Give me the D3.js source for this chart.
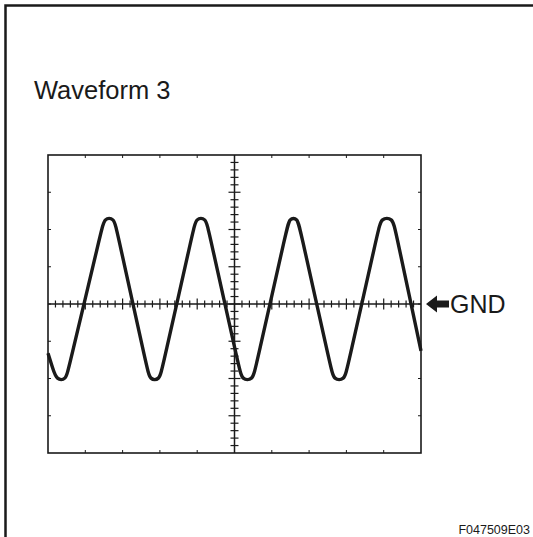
<!DOCTYPE html>
<html>
<head>
<meta charset="utf-8">
<script src="https://cdn.jsdelivr.net/npm/d3@7/dist/d3.min.js"></script>
<style>
  html, body { margin: 0; padding: 0; background: #fff; }
  svg { display: block; }
  text { font-family: "Liberation Sans", Arial, Helvetica, sans-serif; fill: #1a1a1a; }
</style>
</head>
<body>
<svg id="chart" width="533" height="537"></svg>
<script>
// ---- data (time in divisions, voltage in divisions) ----
const waveTime = [0, 0.13, 0.23, 0.48, 0.55, 1.44, 1.51, 1.77, 1.84, 2.66, 2.73, 2.99, 3.06, 3.90, 3.97, 4.23, 4.30, 5.13, 5.20, 5.49, 5.56, 6.40, 6.47, 6.69, 6.76, 7.59, 7.66, 7.95, 8.02, 8.86, 8.93, 9.24, 9.31, 10];
const waveVolt = [-1.32, -1.74, -2.04, -2.04, -1.74, 2.00, 2.31, 2.31, 2.00, -1.74, -2.04, -2.04, -1.74, 2.00, 2.31, 2.31, 2.00, -1.74, -2.04, -2.04, -1.74, 2.00, 2.31, 2.31, 2.00, -1.74, -2.04, -2.04, -1.74, 2.00, 2.31, 2.31, 2.00, -1.26];
const xDivisions = d3.range(0, 11);        // 10 horizontal divisions
const yDivisions = d3.range(-4, 5);        // 8 vertical divisions
const minorStep = 0.2;
const titleText = "Waveform 3";
const gndLabel = "GND";
const figureCode = "F047509E03";

const svg = d3.select("#chart");
const W = 533, H = 537;
const plot = { left: 48, right: 421, top: 155, bottom: 453 };

const x = d3.scaleLinear().domain([0, 10]).range([plot.left, plot.right]);
const y = d3.scaleLinear().domain([-4, 4]).range([plot.bottom, plot.top]);

const ink = "#1a1a1a";

// outer border (top + left visible)
svg.append("path")
  .attr("d", `M5.5,${H} L5.5,5.5 L${W},5.5`)
  .attr("fill", "none").attr("stroke", ink).attr("stroke-width", 2.5);

// title
svg.append("text").attr("x", 34).attr("y", 99)
  .attr("font-size", 25.5).text(titleText);

// frame
const g = svg.append("g");
g.append("rect")
  .attr("x", x(0)).attr("y", y(4))
  .attr("width", x(10) - x(0)).attr("height", y(-4) - y(4))
  .attr("fill", "none").attr("stroke", ink).attr("stroke-width", 1.6);

// frame edge ticks
const edgeLen = 3;
xDivisions.slice(1, -1).forEach(d => {
  g.append("line").attr("x1", x(d)).attr("x2", x(d)).attr("y1", y(4)).attr("y2", y(4) + edgeLen)
    .attr("stroke", ink).attr("stroke-width", 1);
  g.append("line").attr("x1", x(d)).attr("x2", x(d)).attr("y1", y(-4)).attr("y2", y(-4) - edgeLen)
    .attr("stroke", ink).attr("stroke-width", 1);
});
yDivisions.slice(1, -1).forEach(d => {
  g.append("line").attr("x1", x(0)).attr("x2", x(0) + edgeLen).attr("y1", y(d)).attr("y2", y(d))
    .attr("stroke", ink).attr("stroke-width", 1);
  g.append("line").attr("x1", x(10)).attr("x2", x(10) - edgeLen).attr("y1", y(d)).attr("y2", y(d))
    .attr("stroke", ink).attr("stroke-width", 1);
});

// center cross lines
g.append("line").attr("x1", x(0)).attr("x2", x(10)).attr("y1", y(0)).attr("y2", y(0))
  .attr("stroke", ink).attr("stroke-width", 1.5);
g.append("line").attr("x1", x(5)).attr("x2", x(5)).attr("y1", y(4)).attr("y2", y(-4))
  .attr("stroke", ink).attr("stroke-width", 1.5);

// minor ticks on center lines
const hTicks = d3.range(0, 10 + 1e-9, minorStep).map(v => +v.toFixed(2));
hTicks.forEach(t => {
  if (t === 0 || t === 10) return;
  const major = Math.abs(t - Math.round(t)) < 1e-6;
  const len = major ? 5.5 : 3.5;
  g.append("line").attr("x1", x(t)).attr("x2", x(t))
    .attr("y1", y(0) - len).attr("y2", y(0) + len)
    .attr("stroke", ink).attr("stroke-width", 1.2);
});
const vTicks = d3.range(-4, 4 + 1e-9, minorStep).map(v => +v.toFixed(2));
vTicks.forEach(t => {
  if (t === -4 || t === 4) return;
  const major = Math.abs(t - Math.round(t)) < 1e-6;
  const len = major ? 6 : 4;
  g.append("line").attr("x1", x(5) - len).attr("x2", x(5) + len)
    .attr("y1", y(t)).attr("y2", y(t))
    .attr("stroke", ink).attr("stroke-width", 1.2);
});

// waveform
const pts = waveTime.map((t, i) => [t, waveVolt[i]]);
const line = d3.line()
  .x(d => x(d[0])).y(d => y(d[1]))
  .curve(d3.curveBasis);
g.append("path").attr("d", line(pts))
  .attr("fill", "none").attr("stroke", ink).attr("stroke-width", 3.4)
  .attr("stroke-linejoin", "round").attr("stroke-linecap", "butt");

// GND arrow and label
const gy = y(0);
const ax = 426;
svg.append("path")
  .attr("d", `M${ax},${gy} L${ax + 11},${gy - 8.5} L${ax + 11},${gy - 3.6} L${ax + 23},${gy - 3.6} L${ax + 23},${gy + 3.6} L${ax + 11},${gy + 3.6} L${ax + 11},${gy + 8.5} Z`)
  .attr("fill", ink);
svg.append("text").attr("x", 450).attr("y", gy + 9)
  .attr("font-size", 25).text(gndLabel);

// figure code
svg.append("text").attr("x", 530).attr("y", 534)
  .attr("text-anchor", "end").attr("font-size", 12.5).text(figureCode);
</script>
</body>
</html>
